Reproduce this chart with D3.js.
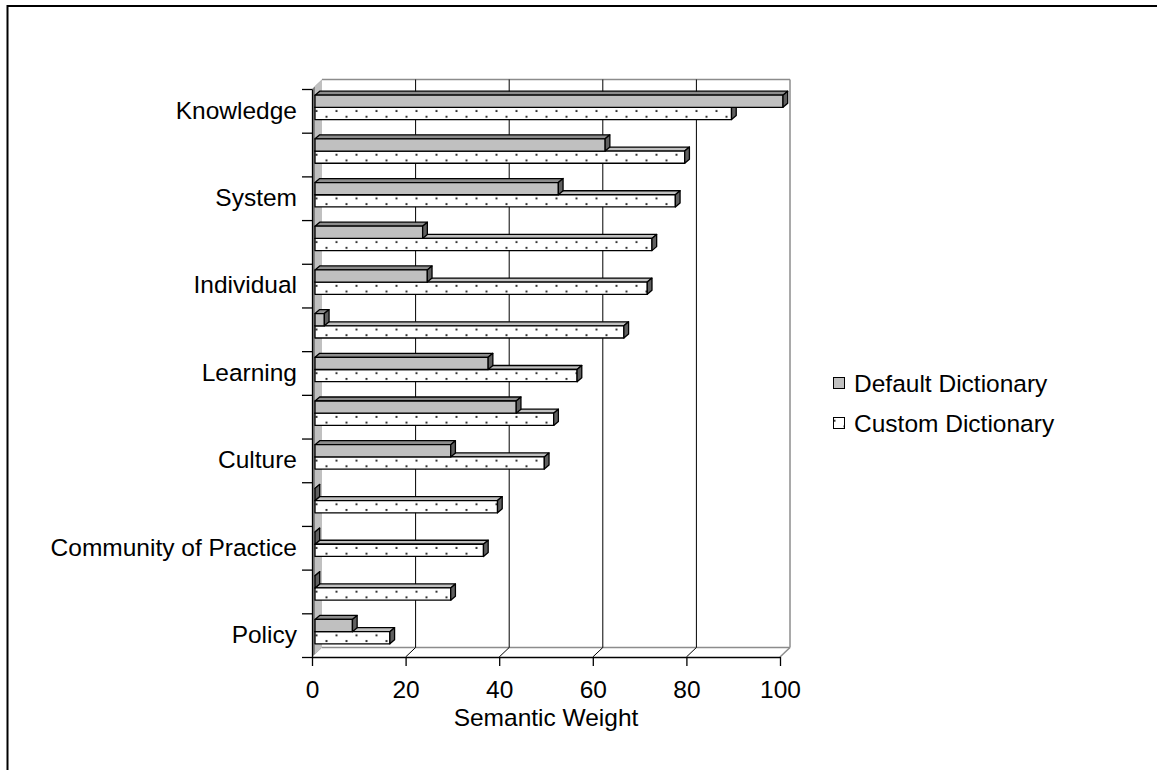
<!DOCTYPE html>
<html>
<head>
<meta charset="utf-8">
<script src="https://cdn.jsdelivr.net/npm/d3@7"></script>
<style>
  html, body { margin: 0; padding: 0; background: #fff; }
  svg { display: block; }
  text { font-family: "Liberation Sans", Arial, sans-serif; fill: #000; }
</style>
</head>
<body>
<svg id="chart" width="1157" height="770"></svg>
<script>
// Category names (only every other one is printed on the axis)
const categories = ["Knowledge", "", "System", "", "Individual", "", "Learning", "", "Culture", "", "Community of Practice", "", "Policy"];
const seriesNames = ["Default Dictionary", "Custom Dictionary"];
const defaultValues = [100, 62, 52, 23, 24, 2, 37, 43, 29, 0, 0, 0, 8];
const customValues  = [89, 79, 77, 72, 71, 66, 56, 51, 49, 39, 36, 29, 16];
const xTicks = [0, 20, 40, 60, 80, 100];
const xTitle = "Semantic Weight";

const FONT = 24.5;
const svg = d3.select("#chart");

// Outer frame
svg.append("rect")
  .attr("x", 7.5).attr("y", 6).attr("width", 1300).attr("height", 900)
  .attr("fill", "none").attr("stroke", "#000").attr("stroke-width", 2);

// Front plane of the pseudo-3D plot box
const plot = { left: 312, right: 780, top: 89, bottom: 657 };
const wall = { dx: 10, dy: -9.5 };      // depth of the walls
const shift = { dx: 3, dy: -3.5 };      // bars sit a little into the box
const depth = { dx: 4.7, dy: -4 };      // depth of each bar

const x = d3.scaleLinear().domain([0, 100]).range([plot.left, plot.right]);
const y = d3.scaleBand().domain(d3.range(categories.length)).range([plot.top, plot.bottom]);
const yEdges = d3.scaleLinear().domain([0, categories.length]).range([plot.top, plot.bottom]);
const barH = 12.2;

const GRID_GREY = "#8c8c8c";

// Left side wall (edge + face)
svg.append("polygon")
  .attr("points", [[plot.left, plot.top], [plot.left + wall.dx, plot.top + wall.dy],
                   [plot.left + wall.dx, plot.bottom + wall.dy], [plot.left, plot.bottom]].join(" "))
  .attr("fill", "#808080");
svg.append("polygon")
  .attr("points", [[plot.left + 3, plot.top - 2.8], [plot.left + wall.dx, plot.top + wall.dy],
                   [plot.left + wall.dx, plot.bottom + wall.dy], [plot.left + 3, plot.bottom - 2.8]].join(" "))
  .attr("fill", "#c0c0c0");

// Back wall outline, floor edges
const bx0 = x(0) + wall.dx, bx1 = x(100) + wall.dx;
const byTop = plot.top + wall.dy, byBot = plot.bottom + wall.dy;
const edges = svg.append("g").attr("stroke", GRID_GREY).attr("stroke-width", 1.5).attr("fill", "none");
edges.append("line").attr("x1", bx0).attr("x2", bx1).attr("y1", byTop).attr("y2", byTop);
edges.append("line").attr("x1", bx1).attr("x2", bx1).attr("y1", byTop).attr("y2", byBot);
edges.append("line").attr("x1", bx0).attr("x2", bx1).attr("y1", byBot).attr("y2", byBot);
edges.append("line").attr("x1", bx1).attr("y1", byBot).attr("x2", x(100)).attr("y2", plot.bottom);

// Gridlines on the back wall, continued across the floor
const grid = svg.append("g").attr("stroke", "#000").attr("stroke-width", 1).attr("fill", "none");
xTicks.filter(t => t > 0 && t < 100).forEach(t => {
  grid.append("polyline")
    .attr("points", [[x(t) + wall.dx, byTop], [x(t) + wall.dx, byBot], [x(t), plot.bottom]].join(" "));
});

// Dot fill for the custom series, one tile origin per bar row
const defs = svg.append("defs");
function dotPattern(id, ox, oy, bg) {
  const p = defs.append("pattern").attr("id", id)
    .attr("patternUnits", "userSpaceOnUse")
    .attr("x", ox).attr("y", oy).attr("width", 20).attr("height", barH);
  p.append("rect").attr("width", 20).attr("height", barH).attr("fill", bg);
  p.append("rect").attr("x", 0.5).attr("y", 2.7).attr("width", 2).attr("height", 2).attr("fill", "#333");
  p.append("rect").attr("x", 10.5).attr("y", 8.4).attr("width", 2).attr("height", 2).attr("fill", "#333");
}

function box(g, v, yTop, front, top, side) {
  const x0 = x(0) + shift.dx, x1 = x(v) + shift.dx;
  const s = { stroke: "#000", "stroke-width": 1.3, "stroke-linejoin": "round" };
  const apply = sel => { Object.entries(s).forEach(([k, val]) => sel.attr(k, val)); return sel; };
  apply(g.append("polygon")
    .attr("points", [[x0, yTop], [x0 + depth.dx, yTop + depth.dy], [x1 + depth.dx, yTop + depth.dy], [x1, yTop]].join(" "))
    .attr("fill", top));
  apply(g.append("rect").attr("x", x0).attr("y", yTop).attr("width", x1 - x0).attr("height", barH)
    .attr("fill", front));
  apply(g.append("polygon")
    .attr("points", [[x1, yTop], [x1 + depth.dx, yTop + depth.dy], [x1 + depth.dx, yTop + barH + depth.dy], [x1, yTop + barH]].join(" "))
    .attr("fill", side));
}

const bars = svg.append("g");
categories.forEach((c, i) => {
  const mid = y(i) + y.bandwidth() / 2 + shift.dy;
  const g = bars.append("g");
  dotPattern("dots-" + i, x(0) + shift.dx, mid, "#fff");
  box(g, customValues[i], mid, "url(#dots-" + i + ")", "#c0c0c0", "#606060");
  box(g, defaultValues[i], mid - barH, "#c0c0c0", "#8c8c8c", "#606060");
});

// Category axis: boundary ticks and every other label
const yTicksAxis = svg.append("g").attr("transform", `translate(${plot.left},0)`)
  .call(d3.axisLeft(yEdges).tickValues(d3.range(categories.length + 1)).tickSize(10).tickSizeOuter(0).tickFormat(""));
yTicksAxis.selectAll("path, line").attr("stroke", "#000").attr("stroke-width", 1.3);

const yLabels = svg.append("g").attr("transform", `translate(${plot.left},0)`)
  .call(d3.axisLeft(y).tickValues(d3.range(categories.length).filter(i => categories[i] !== ""))
    .tickFormat(i => categories[i]).tickSize(0).tickPadding(15));
yLabels.select(".domain").remove();
yLabels.selectAll("text").attr("font-size", FONT).attr("font-family", null);

// Value axis
const xAxis = svg.append("g").attr("transform", `translate(0,${plot.bottom})`)
  .call(d3.axisBottom(x).tickValues(xTicks).tickSize(9).tickSizeOuter(0).tickPadding(15));
xAxis.selectAll("path, line").attr("stroke", "#000").attr("stroke-width", 1.3);
xAxis.selectAll("text").attr("font-size", FONT).attr("font-family", null);

svg.append("text")
  .attr("x", (plot.left + plot.right) / 2).attr("y", 726)
  .attr("text-anchor", "middle").attr("font-size", FONT)
  .text(xTitle);

// Legend
dotPattern("dots-legend", 833, 417, "#fff");
const legend = svg.append("g");
const legendFills = ["#c0c0c0", "url(#dots-legend)"];
seriesNames.forEach((name, k) => {
  const ly = 377 + k * 40;
  legend.append("rect").attr("x", 833.5).attr("y", ly + 0.5).attr("width", 11).attr("height", 11)
    .attr("fill", legendFills[k]).attr("stroke", "#000").attr("stroke-width", 1);
  legend.append("text").attr("x", 854).attr("y", ly + 6).attr("dy", "0.36em")
    .attr("font-size", FONT).text(name);
});
</script>
</body>
</html>
